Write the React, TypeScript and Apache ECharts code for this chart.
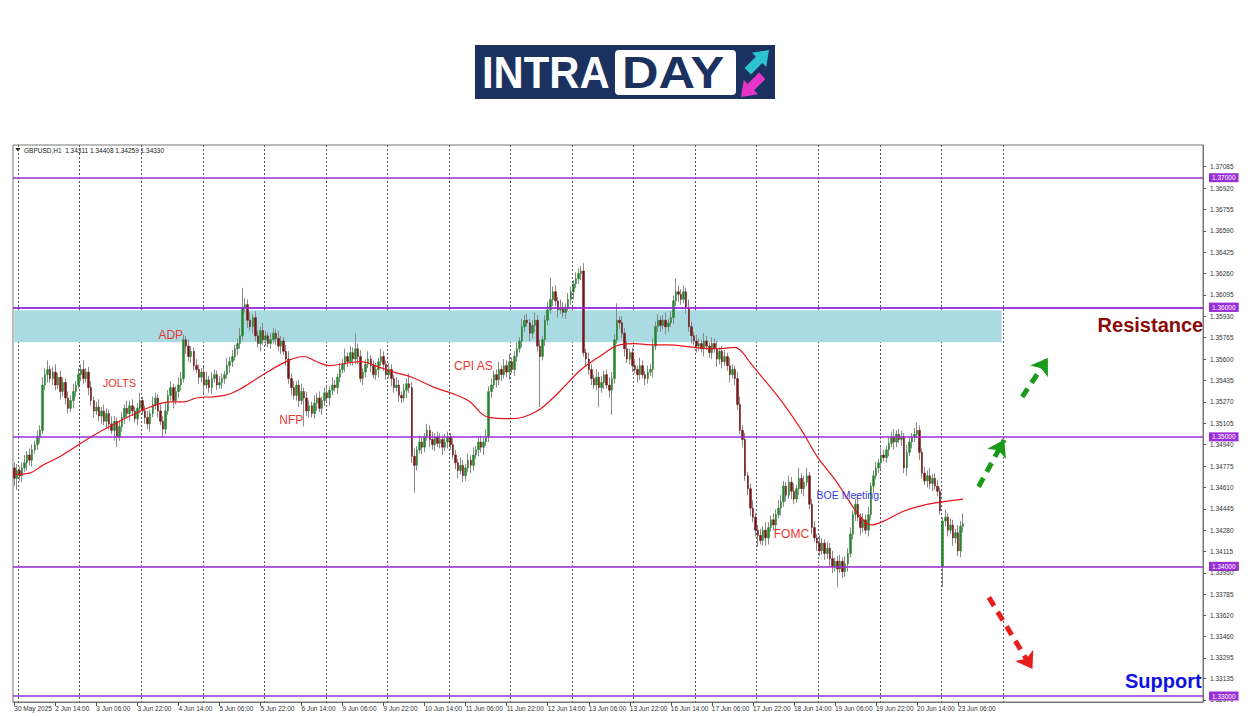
import React, { useEffect, useRef } from 'react';
import * as echarts from 'echarts';

// ---- data (prices in pips above 1.30000, e.g. 470 = 1.34700) ----
const firstOpen = 476;
// bars whose open differs from the previous close (weekend gap): [bar, open]
const gapOpens = [[362, 400]];
const closes = [
  468, 474, 470, 476, 480, 486, 482, 490, 494, 500, 505,
  540, 548, 552, 545, 550, 540, 546, 535, 542, 530,
  522, 528, 535, 540, 548, 552, 545, 550, 538, 528,
  520, 523, 516, 520, 512, 518, 510, 505, 512, 500,
  508, 515, 522, 518, 524, 520, 514, 522, 528, 520,
  515, 510, 518, 525, 530, 520, 512, 506, 520, 532,
  538, 528, 535, 540, 545, 575, 570, 562, 566, 555,
  552, 546, 550, 540, 544, 538, 545, 548, 540, 542,
  545, 548, 555, 558, 562, 568, 572, 578, 600, 602,
  590, 585, 592, 578, 572, 582, 575, 578, 572, 575,
  580, 576, 570, 574, 566, 560, 545, 538, 532, 540,
  528, 535, 530, 520, 524, 518, 526, 530, 522, 528,
  534, 530, 536, 540, 538, 546, 552, 556, 562, 558,
  565, 560, 568, 562, 545, 550, 556, 560, 555, 548,
  552, 558, 562, 556, 548, 552, 545, 538, 540, 532,
  530, 536, 541, 538, 485, 478, 490, 496, 492, 500,
  505, 498, 494, 500, 495, 498, 492, 496, 500, 494,
  486, 480, 474, 478, 470, 476, 482, 478, 486, 490,
  496, 492, 496, 500, 535, 540, 548, 544, 552, 548,
  555, 550, 558, 552, 562, 568, 574, 585, 590, 588,
  580, 586, 590, 570, 562, 575, 590, 598, 606, 612,
  605, 598, 600, 596, 600, 606, 612, 618, 622, 626,
  628, 565, 560, 552, 545, 540, 546, 538, 542, 548,
  540, 536, 545, 575, 590, 588, 580, 568, 560, 565,
  555, 552, 548, 555, 548, 545, 550, 552, 570, 585,
  590, 586, 590, 585, 588, 592, 605, 612, 610, 606,
  612, 600, 585, 578, 574, 570, 572, 568, 574, 570,
  565, 572, 568, 560, 566, 558, 562, 555, 548, 552,
  545, 525, 505, 498, 470, 460, 445, 438, 428, 424,
  420, 428, 422, 430, 436, 432, 440, 445, 450, 462,
  455, 465, 458, 452, 460, 468, 460, 465, 470, 448,
  430, 422, 418, 412, 418, 410, 414, 406, 400, 404,
  398, 404, 396, 402, 410, 425, 440, 448, 438, 430,
  436, 428, 440, 462, 470, 476, 480, 486, 484, 490,
  495, 500, 496, 502, 498, 500, 476, 488, 496, 500,
  502, 505, 488, 472, 466, 470, 464, 468, 462, 458,
  443, 435, 438, 428, 432, 422, 426, 412, 431, 433,
];
const wickUp = [
  4, 5, 3, 4, 6, 3, 5, 4, 3, 5,
  4, 6, 5, 7, 3, 4, 6, 3, 5, 4,
  3, 5, 4, 6, 3, 5, 4, 7, 3, 4,
  5, 3, 4, 6, 3, 5, 4, 3, 6, 4,
  3, 5, 4, 3, 6, 4, 5, 3, 4, 6,
  3, 4, 5, 3, 6, 4, 3, 5, 4, 6,
  4, 5, 3, 4, 6, 5, 4, 3, 5, 4,
  3, 5, 4, 3, 4, 6, 3, 5, 4, 3,
  5, 4, 3, 6, 4, 5, 3, 4, 6, 15,
  5, 4, 6, 3, 5, 4, 3, 6, 4, 3,
  5, 4, 3, 6, 4, 3, 5, 6, 4, 5,
  3, 4, 6, 3, 5, 4, 3, 6, 4, 5,
  3, 4, 5, 3, 6, 4, 3, 5, 4, 6,
  3, 5, 4, 12, 4, 5, 3, 4, 6, 3,
  4, 5, 3, 6, 4, 3, 5, 4, 3, 6,
  4, 3, 5, 4, 8, 4, 6, 3, 5, 4,
  3, 5, 4, 6, 3, 4, 5, 3, 6, 4,
  3, 5, 4, 3, 6, 4, 3, 5, 4, 6,
  3, 4, 5, 3, 6, 4, 5, 3, 4, 6,
  3, 5, 4, 6, 3, 4, 5, 3, 6, 4,
  5, 3, 4, 6, 4, 5, 3, 4, 6, 17,
  4, 5, 3, 6, 4, 3, 5, 4, 3, 5,
  4, 4, 6, 3, 5, 4, 3, 6, 4, 5,
  3, 4, 6, 5, 4, 13, 3, 5, 4, 6,
  3, 4, 5, 3, 6, 4, 3, 5, 4, 6,
  4, 5, 3, 4, 6, 3, 5, 4, 10, 5,
  4, 5, 3, 6, 4, 3, 5, 4, 3, 6,
  4, 3, 5, 4, 6, 3, 4, 5, 3, 6,
  4, 3, 5, 6, 4, 5, 3, 4, 6, 3,
  4, 5, 3, 6, 4, 3, 5, 4, 6, 5,
  4, 3, 5, 4, 6, 3, 8, 4, 5, 6,
  3, 4, 5, 3, 6, 4, 3, 5, 4, 6,
  3, 4, 5, 3, 6, 4, 5, 3, 4, 6,
  3, 5, 4, 6, 3, 4, 5, 3, 6, 4,
  3, 5, 4, 6, 3, 4, 5, 3, 6, 4,
  3, 5, 6, 4, 3, 5, 4, 6, 3, 4,
  5, 3, 3, 6, 3, 5, 4, 3, 6, 4, 8,
];
const wickDn = [
  6, 9, 4, 5, 3, 6, 4, 5, 3, 4,
  5, 3, 4, 6, 3, 5, 4, 3, 6, 4,
  5, 4, 3, 6, 4, 3, 5, 4, 3, 6,
  4, 5, 3, 4, 6, 3, 5, 4, 3, 8,
  8, 3, 4, 5, 3, 6, 4, 3, 5, 4,
  3, 5, 4, 6, 3, 4, 5, 3, 6, 4,
  3, 4, 6, 3, 5, 4, 3, 6, 4, 5,
  4, 3, 5, 4, 6, 3, 4, 5, 3, 4,
  3, 5, 4, 3, 6, 4, 3, 5, 4, 3,
  4, 6, 3, 5, 4, 3, 6, 4, 5, 3,
  4, 3, 5, 4, 6, 3, 5, 4, 6, 3,
  4, 5, 3, 22, 4, 5, 3, 4, 6, 3,
  5, 4, 3, 6, 4, 3, 5, 4, 3, 6,
  4, 3, 5, 4, 6, 3, 5, 4, 3, 5,
  3, 4, 6, 3, 5, 4, 3, 6, 4, 3,
  5, 4, 3, 6, 4, 5, 21, 4, 3, 5,
  4, 3, 6, 4, 5, 3, 4, 6, 3, 5,
  4, 3, 5, 6, 3, 5, 4, 3, 6, 4,
  3, 5, 4, 6, 3, 4, 5, 3, 6, 4,
  5, 3, 4, 6, 3, 5, 4, 3, 5, 4,
  3, 6, 4, 5, 4, 39, 3, 5, 4, 3,
  5, 4, 6, 3, 4, 5, 3, 4, 6, 3,
  4, 5, 3, 6, 4, 5, 3, 4, 15, 4,
  5, 3, 6, 19, 4, 3, 5, 4, 6, 3,
  4, 5, 3, 6, 4, 3, 5, 4, 3, 6,
  3, 4, 5, 3, 6, 4, 3, 5, 4, 6,
  4, 3, 5, 4, 6, 3, 5, 4, 3, 6,
  3, 4, 5, 3, 6, 4, 5, 3, 4, 6,
  3, 5, 4, 3, 6, 4, 5, 6, 4, 5,
  9, 3, 4, 6, 5, 3, 4, 5, 3, 6,
  4, 5, 3, 6, 4, 3, 5, 4, 6, 3,
  4, 5, 3, 6, 4, 3, 5, 4, 6, 5,
  4, 14, 3, 5, 4, 6, 3, 4, 5, 3,
  6, 4, 3, 5, 4, 6, 3, 4, 5, 3,
  4, 5, 3, 6, 4, 3, 5, 4, 6, 3,
  5, 4, 3, 6, 4, 3, 5, 4, 6, 3,
  4, 3, 16, 4, 5, 3, 6, 4, 4, 5, 5,
];
// moving average read at sparse bars: [bar index, pips]
const maPoints = [
  [0, 471], [6, 472], [11, 478], [18, 485], [30, 500], [41, 512], [53, 523], [61, 527],
  [66, 527], [71, 530], [82, 532], [89, 538], [97, 548], [107, 559], [113, 562], [118, 558],
  [123, 555], [130, 557], [135, 558], [142, 554], [148, 550], [155, 546], [164, 538], [170, 534],
  [177, 528], [185, 515], [194, 514], [203, 519], [209, 528], [216, 542], [221, 552], [229, 563],
  [236, 571], [242, 572], [248, 571], [255, 571], [265, 569], [274, 568], [281, 569], [284, 565],
  [287, 557], [299, 528], [307, 505], [313, 485], [320, 467], [326, 449], [330, 438], [334, 432],
  [339, 435], [346, 442], [352, 446], [359, 449], [370, 452],
];
const timeLabels = [
  '30 May 2025', '2 Jun 14:00', '3 Jun 06:00', '3 Jun 22:00', '4 Jun 14:00', '5 Jun 06:00',
  '5 Jun 22:00', '6 Jun 14:00', '9 Jun 06:00', '9 Jun 22:00', '10 Jun 14:00', '11 Jun 06:00',
  '11 Jun 22:00', '12 Jun 14:00', '13 Jun 06:00', '13 Jun 22:00', '16 Jun 14:00', '17 Jun 06:00',
  '17 Jun 22:00', '18 Jun 14:00', '19 Jun 06:00', '19 Jun 22:00', '20 Jun 14:00', '23 Jun 06:00',
];
const priceLabels = [
  1.37085, 1.3692, 1.36755, 1.3659, 1.36425, 1.3626, 1.36095, 1.3593, 1.35765, 1.356,
  1.35435, 1.3527, 1.35105, 1.3494, 1.34775, 1.3461, 1.34445, 1.3428, 1.34115, 1.3395,
  1.33785, 1.3362, 1.3346, 1.33295, 1.33135, 1.3297,
];
const levels = [1.37, 1.36, 1.357, 1.35, 1.34, 1.33];
const lastPrice = 1.3433;
const resistanceZone = [1.35731, 1.35977];
const zoneEndBar = 385;
const lastGridBar = 386;
const header = 'GBPUSD,H1  1.34311 1.34408 1.34259 1.34330';
const events = [
  { text: 'JOLTS', bar: 41, price: 1.35415, color: '#e8392f', size: 11, bold: false },
  { text: 'ADP', bar: 61, price: 1.35785, color: '#e8392f', size: 12, bold: false },
  { text: 'NFP', bar: 108, price: 1.35131, color: '#e8392f', size: 12, bold: false },
  { text: 'CPI AS', bar: 179, price: 1.35546, color: '#e8392f', size: 12, bold: false },
  { text: 'FOMC', bar: 303, price: 1.34254, color: '#e8392f', size: 12, bold: false },
  { text: 'BOE Meeting', bar: 325, price: 1.34554, color: '#3a3ae0', size: 10.5, bold: false },
  { text: 'Resistance', bar: 443, price: 1.35862, color: '#8b0a0a', size: 20, bold: true },
  { text: 'Support', bar: 448, price: 1.33115, color: '#1010e0', size: 20, bold: true },
];
const arrows = [
  { from: [393, 1.353077], to: [403, 1.356077], color: '#1a9a1a' },
  { from: [376, 1.346154], to: [386, 1.349769], color: '#1a9a1a' },
  { from: [380, 1.337615], to: [397, 1.332077], color: '#e81e1e' },
];
const SLOTS = 464;

const FONT = 'Liberation Sans, Arial, sans-serif';
const PURPLE = '#9a2fd8';

function pip(v: number) {
  return Math.round((1.3 + v / 10000) * 100000) / 100000;
}

export default function App() {
  const ref = useRef<HTMLDivElement>(null);

  useEffect(() => {
    if (!ref.current) return;
    const chart = echarts.init(ref.current, undefined, { renderer: 'svg' });

    const cats = Array.from({ length: SLOTS }, (_, i) => 'b' + i);
    const gapMap = new Map(gapOpens.map(([b, o]) => [b, o]));
    const full: number[][] = [];
    const bodies: number[][] = [];
    let prev = firstOpen;
    for (let i = 0; i < closes.length; i++) {
      const open = gapMap.has(i) ? (gapMap.get(i) as number) : prev;
      const c = closes[i];
      const hi = Math.max(open, c) + wickUp[i];
      const lo = Math.min(open, c) - wickDn[i];
      full.push([pip(open), pip(c), pip(lo), pip(hi)]);
      bodies.push([pip(open), pip(c), pip(Math.min(open, c)), pip(Math.max(open, c))]);
      prev = c;
    }

    const lastLabelIdx = (timeLabels.length - 1) * 16;
    const labelInterval = (idx: number) => idx % 16 === 0 && idx <= lastLabelIdx;

    const option: any = {
      animation: false,
      backgroundColor: '#ffffff',
      grid: {
        left: 13,
        right: 47,
        top: 145,
        bottom: 14,
        show: true,
        borderColor: '#777777',
        borderWidth: 1,
        backgroundColor: '#ffffff',
        containLabel: false,
        outerBoundsMode: 'none',
      },
      xAxis: {
        type: 'category',
        data: cats,
        boundaryGap: true,
        axisLine: { show: true, lineStyle: { color: '#777777', width: 1 } },
        axisTick: {
          show: true,
          alignWithLabel: true,
          interval: (idx: number) => labelInterval(idx),
          length: 4,
          lineStyle: { color: '#555555' },
        },
        axisLabel: {
          show: true,
          interval: (idx: number) => labelInterval(idx),
          formatter: (_v: string, idx: number) => timeLabels[idx / 16] || '',
          align: 'left',
          margin: 3,
          fontSize: 6.5,
          fontFamily: FONT,
          color: '#333333',
        },
        splitLine: {
          show: true,
          interval: (idx: number) => idx >= 2 && idx <= lastGridBar && (idx - 2) % 24 === 0,
          lineStyle: { color: '#555555', type: [2, 2], width: 1 },
        },
      },
      yAxis: {
        type: 'value',
        position: 'right',
        min: 1.329537,
        max: 1.372524,
        scale: true,
        axisLine: { show: true, lineStyle: { color: '#777777', width: 1 } },
        axisTick: { show: true, customValues: priceLabels, length: 3, lineStyle: { color: '#555555' } },
        axisLabel: {
          show: true,
          customValues: priceLabels,
          formatter: (v: number) => v.toFixed(5),
          margin: 7,
          fontSize: 6.5,
          fontFamily: FONT,
          color: '#333333',
        },
        splitLine: { show: false },
      },
      series: [
        {
          name: 'wicks',
          type: 'candlestick',
          data: full,
          barWidth: 1,
          z: 2,
          itemStyle: {
            color: '#8a8a8a',
            color0: '#8a8a8a',
            borderColor: '#8a8a8a',
            borderColor0: '#8a8a8a',
            borderWidth: 1,
          },
          markArea: {
            silent: true,
            itemStyle: { color: '#aadbe3' },
            data: [
              [
                { xAxis: 'b0', yAxis: resistanceZone[0] },
                { xAxis: 'b' + zoneEndBar, yAxis: resistanceZone[1] },
              ],
            ],
          },
          markLine: {
            silent: true,
            symbol: 'none',
            z: 1,
            data: [
              {
                yAxis: lastPrice,
                lineStyle: { color: '#c8c8c8', width: 1, type: 'solid' },
                label: {
                  show: true,
                  position: 'end',
                  distance: 6,
                  formatter: (p: any) => Number(p.value).toFixed(5),
                  backgroundColor: '#000000',
                  color: '#ffffff',
                  fontSize: 6.5,
                  fontFamily: FONT,
                  padding: [1, 3, 1, 3],
                },
              },
            ],
          },
        },
        {
          name: 'bodies',
          type: 'candlestick',
          data: bodies,
          barWidth: 2,
          z: 3,
          itemStyle: {
            color: '#25852a',
            color0: '#751515',
            borderColor: '#25852a',
            borderColor0: '#751515',
            borderWidth: 0.5,
          },
          markLine: {
            silent: true,
            symbol: 'none',
            data: levels.map((v) => ({
              yAxis: v,
              lineStyle: { color: PURPLE, width: 1.5, type: 'solid' },
              label: {
                show: true,
                position: 'end',
                distance: 6,
                formatter: (p: any) => Number(p.value).toFixed(5),
                backgroundColor: PURPLE,
                color: '#ffffff',
                fontSize: 6.5,
                fontFamily: FONT,
                padding: [1, 3, 1, 3],
              },
            })),
          },
        },
        {
          name: 'MA',
          type: 'line',
          data: maPoints.map(([i, v]) => ['b' + i, pip(v)]),
          smooth: 0.4,
          showSymbol: false,
          symbol: 'none',
          z: 4,
          lineStyle: { color: '#e8141b', width: 1.2 },
          markLine: {
            silent: true,
            symbol: ['none', 'arrow'],
            symbolSize: 16,
            label: { show: false },
            data: arrows.map((a) => [
              {
                coord: ['b' + a.from[0], a.from[1]],
                lineStyle: { color: a.color, width: 5, type: [10, 7] },
                itemStyle: { color: a.color },
              },
              { coord: ['b' + a.to[0], a.to[1]] },
            ]),
          },
        },
        {
          name: 'notes',
          type: 'scatter',
          symbolSize: 1,
          z: 6,
          itemStyle: { color: 'rgba(0,0,0,0)', opacity: 1 },
          emphasis: { disabled: true },
          data: events.map((e) => ({
            value: ['b' + e.bar, e.price],
            label: {
              show: true,
              position: 'inside',
              formatter: e.text,
              color: e.color,
              opacity: 1,
              fontSize: e.size,
              fontWeight: e.bold ? 'bold' : 'normal',
              fontFamily: FONT,
            },
          })),
        },
      ],
      graphic: [
        // header line
        { type: 'polygon', shape: { points: [[15.5, 148], [20.5, 148], [18, 151.5]] }, style: { fill: '#111' } },
        {
          type: 'text',
          x: 24,
          y: 150,
          style: { text: header, font: '6.5px ' + FONT, fill: '#222', verticalAlign: 'middle' },
        },
        // logo
        { type: 'rect', shape: { x: 475, y: 45, width: 300, height: 54 }, style: { fill: '#1b3160' } },
        {
          type: 'text',
          x: 482,
          y: 73,
          scaleX: 0.95,
          style: { text: 'INTRA', font: 'bold 44px ' + FONT, fill: '#ffffff', verticalAlign: 'middle' },
        },
        { type: 'rect', shape: { x: 615, y: 50, width: 121, height: 45, r: 4 }, style: { fill: '#ffffff' } },
        {
          type: 'text',
          x: 622,
          y: 73,
          scaleX: 1.15,
          style: { text: 'DAY', font: 'bold 44px ' + FONT, fill: '#1b3160', verticalAlign: 'middle' },
        },
        {
          type: 'polygon',
          shape: { points: [[769, 50], [766.2, 67], [762.3, 63.1], [751, 74.4], [744.6, 68], [755.9, 56.7], [752, 52.8]] },
          style: { fill: '#2ec4cf' },
        },
        {
          type: 'polygon',
          shape: { points: [[741, 97], [743.8, 80], [747.7, 83.9], [759, 72.6], [765.4, 79], [754.1, 90.3], [758, 94.2]] },
          style: { fill: '#e535c9' },
        },
      ],
    };

    chart.setOption(option);
    return () => chart.dispose();
  }, []);

  return (
    <div
      ref={ref}
      style={{ position: 'fixed', left: 0, top: 0, width: 1250, height: 716, background: '#ffffff' }}
    />
  );
}
